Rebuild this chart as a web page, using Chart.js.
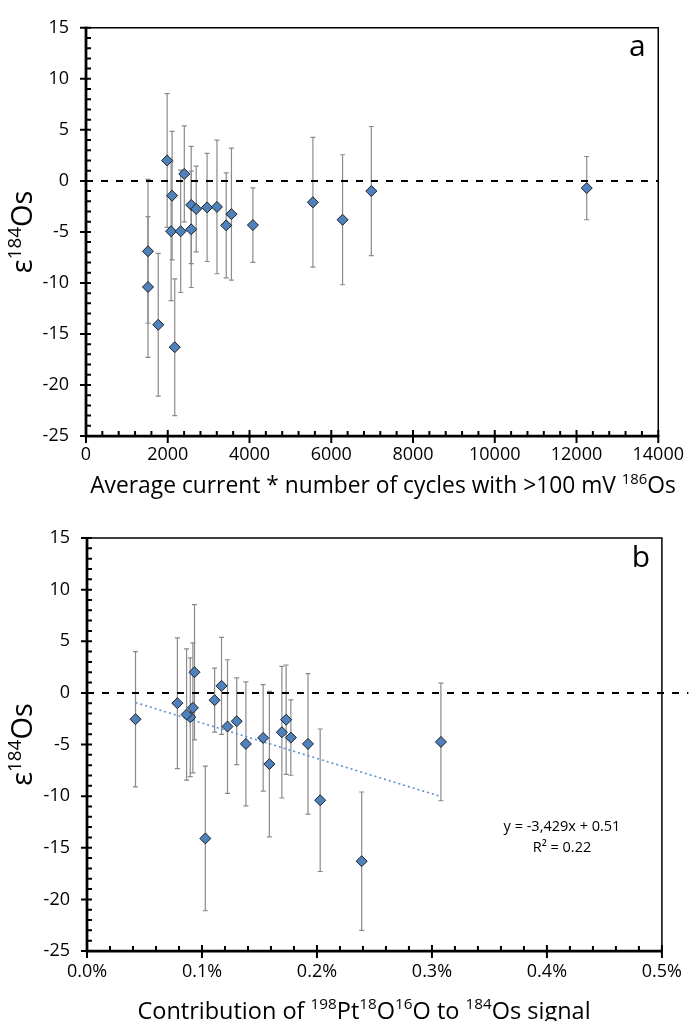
<!DOCTYPE html>
<html lang="en">
<head>
<meta charset="UTF-8">
<title>Os isotope runs</title>
<script src="https://cdn.jsdelivr.net/npm/chart.js"></script>
<style>
  html, body { margin: 0; padding: 0; background: #fff; }
  body { width: 692px; height: 1021px; position: relative; overflow: hidden; }
  .panel { position: absolute; left: 0; width: 692px; }
  #panelA { top: 0; height: 510px; }
  #panelB { top: 510px; height: 511px; }
</style>
</head>
<body>
<div class="panel" id="panelA"><canvas id="chartA"></canvas></div>
<div class="panel" id="panelB"><canvas id="chartB"></canvas></div>
<script>
// one entry per run, same runs in both panels
const eps184 = [-6.9, -10.4, -14.1, 2.0, -1.45, -4.94, -4.94, 0.68, -2.36, -4.75, -2.75,
                -2.6, -2.55, -4.36, -3.26, -4.33, -2.1, -3.81, -1.0, -0.71, -16.3];
const eps2se = [7.05, 6.9, 7.0, 6.55, 6.3, 6.8, 6.0, 4.7, 5.75, 5.7, 4.2,
                5.3, 6.55, 5.15, 6.47, 3.65, 6.36, 6.37, 6.33, 3.1, 6.7];
const cycleSignal = [1517, 1517, 1767, 1985, 2106, 2082, 2316, 2405, 2574, 2574, 2696,
                     2962, 3204, 3430, 3558, 4083, 5551, 6277, 6980, 12250, 2171];
// PtO2 contribution as a fraction (0.001 = 0.1%)
const ptOxide = [0.001586, 0.002028, 0.001029, 0.000935, 0.000921, 0.001922, 0.001382, 0.001170, 0.000898, 0.003078, 0.001302,
                 0.001732, 0.000422, 0.001532, 0.001222, 0.001773, 0.000866, 0.001695, 0.000786, 0.001110, 0.002389];

const trendX = [0.000422, 0.003078];
const trendY = [-0.94, -10.04];
const trendText = ['y = -3,429x + 0.51', 'R² = 0.22'];

const yTicks = [-25, -20, -15, -10, -5, 0, 5, 10, 15];
const xTicksA = [0, 2000, 4000, 6000, 8000, 10000, 12000, 14000];
const xTicksB = [0, 0.001, 0.002, 0.003, 0.004, 0.005];

const FONT = '"Open Sans", "DejaVu Sans", sans-serif';
const BLUE = '#4f81bd';

function pts(xs, ys) { return xs.map((x, i) => ({ x: x, y: ys[i] })); }

function richWidth(ctx, parts, size) {
  let w = 0;
  parts.forEach(p => {
    ctx.font = (p.sup ? size * 0.65 : size) + 'px ' + FONT;
    w += ctx.measureText(p.t).width;
  });
  return w;
}
function drawRich(ctx, parts, size, cx, cy) {
  let x = cx - richWidth(ctx, parts, size) / 2;
  ctx.textAlign = 'left';
  ctx.textBaseline = 'middle';
  parts.forEach(p => {
    const s = p.sup ? size * 0.65 : size;
    ctx.font = s + 'px ' + FONT;
    ctx.fillText(p.t, x, p.sup ? cy - size * 0.3 : cy);
    x += ctx.measureText(p.t).width;
  });
}

const errorBars = {
  id: 'errorBars',
  beforeDatasetsDraw(chart) {
    const { ctx, scales: { x, y } } = chart;
    chart.data.datasets.forEach(ds => {
      if (!ds.errors) return;
      ctx.save();
      ctx.strokeStyle = '#8a8a8a';
      ctx.lineWidth = 1.2;
      ds.data.forEach((p, i) => {
        const px = x.getPixelForValue(p.x);
        const hi = y.getPixelForValue(p.y + ds.errors[i]);
        const lo = y.getPixelForValue(p.y - ds.errors[i]);
        ctx.beginPath();
        ctx.moveTo(px, hi); ctx.lineTo(px, lo);
        ctx.moveTo(px - 2.5, hi); ctx.lineTo(px + 2.5, hi);
        ctx.moveTo(px - 2.5, lo); ctx.lineTo(px + 2.5, lo);
        ctx.stroke();
      });
      ctx.restore();
    });
  }
};

const frame = {
  id: 'frame',
  afterDatasetsDraw(chart, args, o) {
    const { ctx, chartArea: a, scales: { x, y } } = chart;
    ctx.save();
    ctx.strokeStyle = '#000';
    ctx.lineWidth = 1.5;
    ctx.beginPath();
    ctx.moveTo(a.left, a.top); ctx.lineTo(a.right, a.top); ctx.lineTo(a.right, a.bottom);
    ctx.stroke();

    ctx.lineWidth = 2;
    ctx.beginPath();
    const ny = Math.round((y.max - y.min) / o.yMinor);
    for (let i = 0; i <= ny; i++) {
      const py = y.getPixelForValue(y.min + i * o.yMinor);
      ctx.moveTo(a.left, py); ctx.lineTo(a.left + 5, py);
    }
    const nx = Math.round((x.max - x.min) / o.xMinor);
    for (let i = 0; i <= nx; i++) {
      const px = x.getPixelForValue(x.min + i * o.xMinor);
      ctx.moveTo(px, a.bottom); ctx.lineTo(px, a.bottom - 5);
    }
    y.ticks.forEach(t => {
      const py = y.getPixelForValue(t.value);
      ctx.moveTo(a.left - 6, py); ctx.lineTo(a.left + 5, py);
    });
    x.ticks.forEach(t => {
      const px = x.getPixelForValue(t.value);
      ctx.moveTo(px, a.bottom - 6); ctx.lineTo(px, a.bottom + 7);
    });
    ctx.stroke();

    ctx.lineWidth = 2.75;
    ctx.beginPath();
    ctx.moveTo(a.left, a.top - 1); ctx.lineTo(a.left, a.bottom); ctx.lineTo(a.right + 1, a.bottom);
    ctx.stroke();

    ctx.fillStyle = '#000';
    ctx.font = '30px ' + FONT;
    ctx.textAlign = 'center';
    ctx.textBaseline = 'middle';
    ctx.fillText(o.letter, a.right - 21, a.top + 20);

    drawRich(ctx, o.xTitle, o.xTitleSize, o.xTitlePos[0], o.xTitlePos[1]);

    ctx.save();
    ctx.translate(24, (a.top + a.bottom) / 2);
    ctx.rotate(-Math.PI / 2);
    drawRich(ctx, [{ t: 'ε' }, { t: '184', sup: true }, { t: 'Os' }], 29, 0, 0);
    ctx.restore();

    if (o.note) {
      ctx.font = '14.5px ' + FONT;
      ctx.textAlign = 'center';
      ctx.textBaseline = 'middle';
      o.note.forEach((line, i) => ctx.fillText(line, o.notePos[0], o.notePos[1] + i * 21));
    }
    ctx.restore();
  }
};

function makeChart(id, cfg) {
  return new Chart(document.getElementById(id), {
    type: 'scatter',
    data: { datasets: cfg.datasets },
    options: {
      responsive: true,
      maintainAspectRatio: false,
      animation: false,
      layout: { padding: cfg.padding },
      plugins: { legend: { display: false }, tooltip: { enabled: false }, frame: cfg.frame },
      scales: {
        x: {
          type: 'linear', min: cfg.xMin, max: cfg.xMax,
          afterBuildTicks: s => { s.ticks = cfg.xTicks.map(v => ({ value: v })); },
          afterFit: s => { s.height = cfg.xHeight; },
          grid: { display: false, drawTicks: false },
          border: { display: false },
          ticks: { padding: cfg.xPad, color: '#000', font: { family: FONT, size: 18 }, maxRotation: 0, autoSkip: false, callback: cfg.xFormat }
        },
        y: {
          type: 'linear', min: -25, max: 15,
          afterBuildTicks: s => { s.ticks = yTicks.map(v => ({ value: v })); },
          afterFit: s => { s.width = cfg.yWidth; },
          grid: { display: false, drawTicks: false },
          border: { display: false },
          ticks: { padding: 17, color: '#000', font: { family: FONT, size: 18 }, autoSkip: false }
        }
      }
    },
    plugins: [errorBars, frame]
  });
}

const marker = {
  pointStyle: 'rectRot', pointRadius: 5.5, pointHoverRadius: 5.5,
  backgroundColor: BLUE, borderColor: '#1e1e1e', borderWidth: 1
};

makeChart('chartA', {
  padding: { top: 23, right: 29, left: 0, bottom: 0 },
  xMin: 0, xMax: 14000, xTicks: xTicksA, xHeight: 74, yWidth: 86, xPad: 8,
  xFormat: v => String(v),
  frame: {
    letter: 'a', xMinor: 400, yMinor: 1, xTitlePos: [383, 487], xTitleSize: 22.8,
    xTitle: [{ t: 'Average current * number of cycles with >100 mV ' }, { t: '186', sup: true }, { t: 'Os' }]
  },
  datasets: [
    Object.assign({ data: pts(cycleSignal, eps184), errors: eps2se }, marker),
    { type: 'line', data: [{ x: 0, y: 0 }, { x: 14000, y: 0 }], borderColor: '#000', borderWidth: 2,
      borderDash: [7, 8], pointRadius: 0 }
  ]
});

makeChart('chartB', {
  padding: { top: 28, right: 24, left: 0, bottom: 0 },
  xMin: 0, xMax: 0.005, xTicks: xTicksB, xHeight: 70, yWidth: 87, xPad: 10,
  xFormat: v => (v * 100).toFixed(1) + '%',
  frame: {
    letter: 'b', xMinor: 0.0002, yMinor: 1, xTitlePos: [364, 502], xTitleSize: 23.5,
    xTitle: [{ t: 'Contribution of ' }, { t: '198', sup: true }, { t: 'Pt' }, { t: '18', sup: true }, { t: 'O' },
             { t: '16', sup: true }, { t: 'O to ' }, { t: '184', sup: true }, { t: 'Os signal' }],
    note: trendText, notePos: [562, 317]
  },
  datasets: [
    Object.assign({ data: pts(ptOxide, eps184), errors: eps2se }, marker),
    { type: 'line', data: pts(trendX, trendY), borderColor: '#5b8fd0', borderWidth: 1.6,
      borderDash: [2, 3], pointRadius: 0 },
    { type: 'line', data: [{ x: 0, y: 0 }, { x: 0.00523, y: 0 }], borderColor: '#000', borderWidth: 2,
      borderDash: [7, 8], pointRadius: 0, clip: false }
  ]
});
</script>
</body>
</html>
